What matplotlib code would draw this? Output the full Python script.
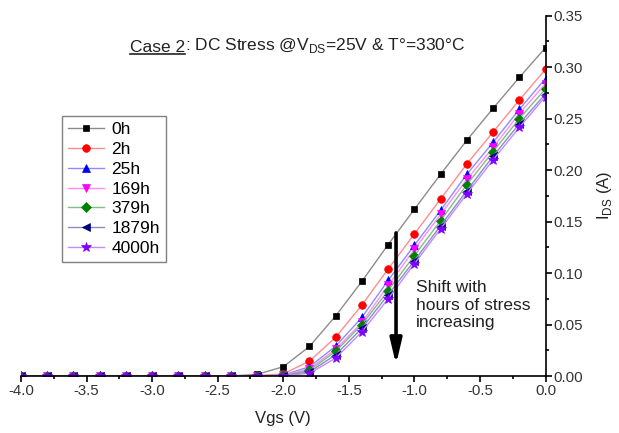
import matplotlib
matplotlib.use("Agg")
import matplotlib.pyplot as plt
from matplotlib.ticker import MultipleLocator, FormatStrFormatter
from matplotlib.lines import Line2D

plt.rcParams['font.family'] = ['Liberation Sans', 'DejaVu Sans']
plt.rcParams['mathtext.fontset'] = 'custom'
plt.rcParams['mathtext.rm'] = 'Liberation Sans'
plt.rcParams['axes.unicode_minus'] = False

# Gate voltage sweep (V)
vgs = [-4.0, -3.8, -3.6, -3.4, -3.2, -3.0, -2.8, -2.6, -2.4, -2.2,
       -2.0, -1.8, -1.6, -1.4, -1.2, -1.0, -0.8, -0.6, -0.4, -0.2, 0.0]

# Drain current (A) for each stress duration
off = [0.0] * 9
ids_0h = off + [0.0016, 0.009, 0.0287, 0.0584, 0.092, 0.1277, 0.162, 0.196, 0.229, 0.260, 0.290, 0.319]
ids_2h = off + [0.0005, 0.002, 0.0145, 0.0377, 0.069, 0.104, 0.138, 0.172, 0.206, 0.237, 0.268, 0.298]
ids_25h = off + [0.0, 0.001, 0.009, 0.029, 0.057, 0.093, 0.127, 0.161, 0.196, 0.227, 0.259, 0.289]
ids_169h = off + [0.0, 0.0008, 0.007, 0.026, 0.052, 0.088, 0.123, 0.157, 0.191, 0.222, 0.255, 0.284]
ids_379h = off + [0.0, 0.0006, 0.0055, 0.024, 0.050, 0.083, 0.117, 0.151, 0.186, 0.218, 0.250, 0.279]
ids_1879h = off + [0.0, 0.0004, 0.004, 0.0206, 0.0465, 0.079, 0.112, 0.146, 0.180, 0.2135, 0.245, 0.274]
ids_4000h = off + [0.0, 0.0003, 0.0026, 0.0174, 0.043, 0.075, 0.109, 0.143, 0.177, 0.210, 0.2415, 0.2715]

labels = ['0h', '2h', '25h', '169h', '379h', '1879h', '4000h']
series = [ids_0h, ids_2h, ids_25h, ids_169h, ids_379h, ids_1879h, ids_4000h]
markers = ['s', 'o', '^', 'v', 'D', '<', '*']
colors = ['#000000', '#ff0000', '#0000ff', '#ff00ff', '#008000', '#000080', '#8000ff']
line_colors = ['#8c8c8c', '#ff8c8c', '#8c8cff', '#ff8cff', '#7fbf7f', '#8c8cc4', '#c08cff']
msizes = [5, 5.5, 5.5, 5.5, 5, 5.5, 7]

fig = plt.figure(figsize=(6.19, 4.33), dpi=100)
ax = fig.add_axes([0.0339, 0.1316, 0.8474, 0.8321])

for y, lab, m, c, lc, ms in zip(series, labels, markers, colors, line_colors, msizes):
    ax.plot(vgs, y, color=lc, lw=1.0, marker=m, markersize=ms,
            markerfacecolor=c, markeredgecolor=c, markeredgewidth=0.5, label=lab)

ax.set_xlim(-4.0, 0.0)
ax.set_ylim(0.0, 0.35)

# Origin-style axes: bottom and right only
ax.spines[['left', 'top']].set_visible(False)
ax.spines['right'].set_linewidth(1.2)
ax.spines['bottom'].set_linewidth(1.2)
ax.yaxis.tick_right()
ax.yaxis.set_label_position('right')

ax.xaxis.set_major_locator(MultipleLocator(0.5))
ax.xaxis.set_minor_locator(MultipleLocator(0.25))
ax.yaxis.set_major_locator(MultipleLocator(0.05))
ax.yaxis.set_minor_locator(MultipleLocator(0.025))
ax.xaxis.set_major_formatter(FormatStrFormatter('%.1f'))
ax.yaxis.set_major_formatter(FormatStrFormatter('%.2f'))
ax.tick_params(which='major', direction='out', length=4, width=1.2,
               labelsize=10.8, labelcolor='#333333', pad=2)
ax.tick_params(which='minor', direction='out', length=2.5, width=1.2)

ax.set_xlabel('Vgs (V)', fontsize=12, color='#222222', labelpad=9)
ax.set_ylabel(r'I$_{\mathrm{DS}}$ (A)', fontsize=12, color='#222222', labelpad=8)

leg = ax.legend(loc='upper left', bbox_to_anchor=(0.078, 0.722), fontsize=12.5,
                frameon=True, fancybox=False, edgecolor='#808080', framealpha=1,
                handlelength=2.1, handletextpad=0.4, borderpad=0.35, labelspacing=0.27,
                borderaxespad=0)
leg.get_frame().set_linewidth(1.0)

# Shift arrow and note
ax.annotate('', xy=(-1.14, 0.011), xytext=(-1.14, 0.139),
            arrowprops=dict(arrowstyle='-|>,head_length=1.5,head_width=0.35',
                            color='black', lw=2.6, shrinkA=0, shrinkB=0))
ax.text(-0.985, 0.093, 'Shift with\nhours of stress\nincreasing', fontsize=12.5,
        ha='left', va='top', color='#222222', linespacing=1.2)

# Title with underlined "Case 2"
t1 = fig.text(0.21, 0.88, 'Case 2', fontsize=12.5, color='#222222', ha='left', va='baseline')
t2 = ax.annotate(r': DC Stress @V$_{\mathrm{DS}}$=25V & T°=330°C', xy=(1, 0), xycoords=t1,
                 va='bottom', ha='left', fontsize=12.5, color='#222222',
                 annotation_clip=False)
fig.canvas.draw()
bb = t1.get_window_extent()
inv = fig.transFigure.inverted()
x0, y0 = inv.transform((bb.x0, bb.y0 + 1))
x1, _ = inv.transform((bb.x1, bb.y0 + 1))
fig.add_artist(Line2D([x0, x1], [y0, y0], transform=fig.transFigure, color='#222222', lw=1.2))

fig.savefig('out.png', dpi=100)
